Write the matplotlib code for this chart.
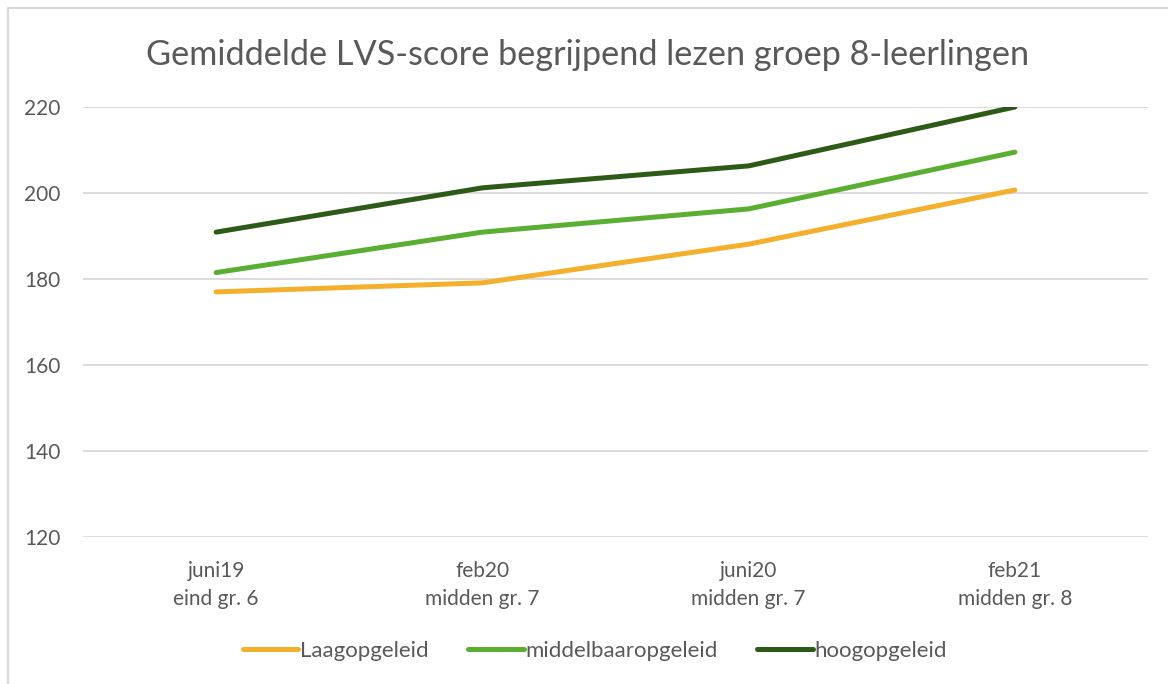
import matplotlib
matplotlib.use('Agg')
import matplotlib.pyplot as plt
from matplotlib.lines import Line2D
import numpy as np

plt.rcParams['font.family'] = ['Lato', 'DejaVu Sans']

CATEGORIES = ['juni19\neind gr. 6', 'feb20\nmidden gr. 7',
              'juni20\nmidden gr. 7', 'feb21\nmidden gr. 8']
SERIES = ['Laagopgeleid', 'middelbaaropgeleid', 'hoogopgeleid']
LAAG = [177.0, 179.1, 188.1, 200.7]
MIDDEL = [181.5, 190.9, 196.3, 209.5]
HOOG = [190.9, 201.2, 206.3, 220.0]
COLORS = ['#F4AF2D', '#5AAE32', '#2D5B17']

TEXT_GREY = '#595959'
GRID_GREY = '#D9D9D9'


def main():
    fig = plt.figure(figsize=(11.68, 6.84), dpi=100)
    ax = fig.add_axes([83 / 1168, 1 - 537 / 684, 1065 / 1168, 430 / 684])

    x = np.arange(len(CATEGORIES))
    for vals, name, col in zip([LAAG, MIDDEL, HOOG], SERIES, COLORS):
        ax.plot(x, vals, color=col, lw=3.6, solid_capstyle='round',
                solid_joinstyle='round', label=name)

    ax.set_xlim(-0.5, len(CATEGORIES) - 0.5)
    ax.set_ylim(120, 220)
    ax.set_yticks(np.arange(120, 221, 20))
    ax.set_xticks(x)
    ax.set_xticklabels(CATEGORIES, linespacing=1.5)
    ax.tick_params(axis='both', length=0, labelsize=15, labelcolor=TEXT_GREY)
    ax.tick_params(axis='x', pad=17)
    ax.tick_params(axis='y', pad=16)
    ax.yaxis.grid(True, color=GRID_GREY, lw=1.3)
    ax.set_axisbelow(True)
    for s in ax.spines.values():
        s.set_visible(False)

    fig.text(588 / 1168, 1 - 55 / 684,
             'Gemiddelde LVS-score begrijpend lezen groep 8-leerlingen',
             ha='center', va='center', fontsize=24.7, color=TEXT_GREY)

    leg = fig.legend(loc='center', bbox_to_anchor=(595 / 1168, 1 - 651 / 684),
                     ncol=3, frameon=False, fontsize=16, handlelength=2.5,
                     handletextpad=0.1, columnspacing=1.75)
    for t in leg.get_texts():
        t.set_color(TEXT_GREY)

    # chart area border (only left and top visible in the crop)
    fig.add_artist(Line2D([7.5 / 1168, 7.5 / 1168, 1.0],
                          [0.0, 1 - 8 / 684, 1 - 8 / 684],
                          transform=fig.transFigure, color=GRID_GREY, lw=1.6))

    fig.savefig('out.png', dpi=100, facecolor='white')
    plt.close(fig)


if __name__ == '__main__':
    main()
